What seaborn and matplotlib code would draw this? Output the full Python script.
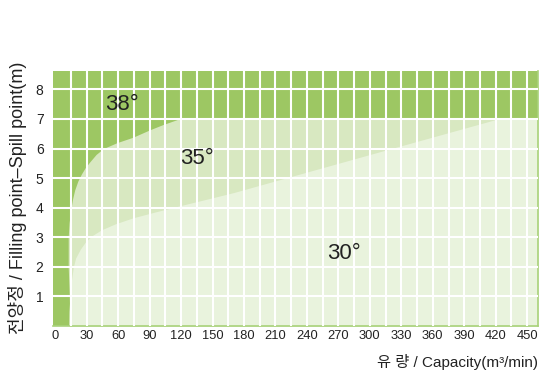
import numpy as np
import matplotlib
matplotlib.use("Agg")
import matplotlib.pyplot as plt
import seaborn as sns

# ---- data ----
# boundary between 38° and 35° zones: (height, capacity)
b38_y = [0, 1, 2, 3, 3.5, 4, 4.3, 4.6, 4.9, 5.14, 5.35, 5.55, 5.8, 6.0, 6.2, 6.38, 6.63, 6.8, 6.95, 7.0]
b38_x = [14, 13.5, 12.4, 12.4, 13.3, 15.2, 16.6, 18.6, 21.6, 25, 28.6, 33, 39, 46, 59, 74, 90, 102, 114, 118]
# boundary between 35° and 30° zones
b35_y = [0, 0.5, 1.0, 1.5, 2.0, 2.3, 2.6, 2.85, 3.05, 3.25, 3.45, 3.66, 3.87, 4.08, 4.3, 4.51, 5.14, 6.1, 6.96, 7.0]
b35_x = [13, 13.2, 14, 15.3, 17.3, 19.5, 24, 29, 35, 44, 57, 74.4, 97, 120.6, 146, 170, 233.5, 330.6, 418, 422]

zone_labels = ["38°", "35°", "30°"]
zone_label_x = [64, 135, 275]
zone_label_y = [7.5, 5.65, 2.45]

x_ticks = list(range(0, 451, 30))
y_ticks = [1, 2, 3, 4, 5, 6, 7, 8]
x_grid = list(range(15, 451, 15))

x_label = "유 량 / Capacity(m³/min)"
y_label = "전양정 / Filling point–Spill point(m)"

C_DARK = "#9dc763"
C_MID = "#d8e8c1"
C_LIGHT = "#e9f3dd"
C_AX = "#a9d27a"

sns.set_theme(style="white")
FAM = ["Liberation Sans", "Noto Sans CJK KR", "DejaVu Sans"]
plt.rcParams["font.family"] = FAM

fig = plt.figure(figsize=(5.49, 3.90), dpi=100)
ax = fig.add_axes([0.0971, 0.1641, 0.9794 - 0.0971, 0.8179 - 0.1641])
XMAX = 460
ax.set_xlim(-1.8, XMAX)
ax.set_ylim(0, 8.62)
ax.set_facecolor(C_DARK)

ax.fill_betweenx(b38_y, b38_x, XMAX, color=C_MID, lw=0, zorder=1)
ax.fill_betweenx(b35_y, b35_x, XMAX, color=C_LIGHT, lw=0, zorder=2)

for gx in x_grid:
    ax.axvline(gx, color="white", lw=1.5, zorder=3)
for gy in y_ticks:
    ax.axhline(gy, color="white", lw=1.5, zorder=3)

for s in ["left", "top"]:
    ax.spines[s].set_visible(False)
for s in ["bottom", "right"]:
    ax.spines[s].set_visible(True)
    ax.spines[s].set_color(C_AX)
    ax.spines[s].set_linewidth(1.2)

ax.set_xticks(x_ticks)
ax.set_xticklabels([str(v) for v in x_ticks], family=FAM)
ax.set_yticks(y_ticks)
ax.set_yticklabels([str(v) for v in y_ticks], family=FAM)
ax.tick_params(axis="x", length=0, labelsize=9.3, colors="#222222", pad=3)
ax.tick_params(axis="y", length=0, labelsize=10, colors="#222222", pad=7)

for t, xx, yy in zip(zone_labels, zone_label_x, zone_label_y):
    ax.text(xx, yy, t, fontsize=16, color="#222222", ha="center", va="center", zorder=5,
            family=FAM)

fig.text(538 / 549, 1 - 362 / 390, x_label, ha="right", va="center", fontsize=11,
         color="#222222", family=FAM)
fig.text(18 / 549, 1 - 198 / 390, y_label, ha="center", va="center", rotation=90,
         fontsize=13, color="#222222", family=FAM)

fig.savefig("out.png", dpi=100)
